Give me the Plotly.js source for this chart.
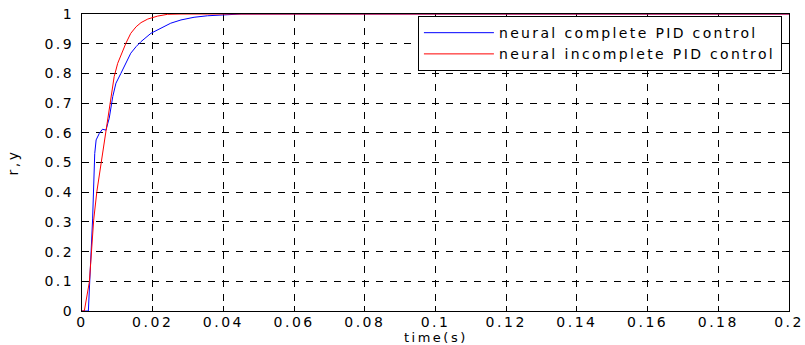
<!DOCTYPE html>
<html>
<head>
<meta charset="utf-8">
<script src="https://cdn.plot.ly/plotly-3.0.1.min.js"></script>
<style>
  html, body { margin: 0; padding: 0; background: #fff; }
  #chart { width: 805px; height: 345px; }
  .xtick text, .ytick text, .xtitle, .ytitle, .annotation-text { letter-spacing: 2.5px; }
  .legendtext { letter-spacing: 2.35px; }
</style>
</head>
<body>
<div id="chart"></div>
<script>
// time (s) and output for the neural complete PID controller (blue)
const completeT = [0, 0.0018, 0.0030, 0.0036, 0.0040, 0.0045, 0.0049, 0.0058, 0.0068, 0.0073, 0.0077, 0.0087, 0.0096, 0.0110, 0.0124, 0.0138, 0.0153, 0.0167, 0.0195, 0.0223, 0.0251, 0.0280, 0.0317, 0.0355, 0.0393, 0.0450, 0.2];
const completeY = [0, 0, 0.31, 0.53, 0.576, 0.590, 0.598, 0.612, 0.609, 0.632, 0.649, 0.722, 0.767, 0.800, 0.834, 0.868, 0.890, 0.907, 0.935, 0.952, 0.969, 0.980, 0.989, 0.994, 0.997, 1.0, 1.0];
// time (s) and output for the neural incomplete PID controller (red)
const incompleteT = [0, 0.00065, 0.0021, 0.0027, 0.0033, 0.0042, 0.0054, 0.0068, 0.0073, 0.0082, 0.0091, 0.0101, 0.0110, 0.0124, 0.0138, 0.0153, 0.0167, 0.0186, 0.0214, 0.0242, 0.0280, 0.2];
const incompleteY = [0, 0, 0.099, 0.200, 0.306, 0.402, 0.497, 0.604, 0.643, 0.710, 0.789, 0.834, 0.862, 0.901, 0.935, 0.957, 0.971, 0.983, 0.993, 0.999, 1.0, 1.0];

const xTickVals = [0, 0.02, 0.04, 0.06, 0.08, 0.1, 0.12, 0.14, 0.16, 0.18, 0.2];
const xTickText = ['0', '0.02', '0.04', '0.06', '0.08', '0.1', '0.12', '0.14', '0.16', '0.18', '0.2'];
const yTickVals = [0, 0.1, 0.2, 0.3, 0.4, 0.5, 0.6, 0.7, 0.8, 0.9, 1];
const yTickText = ['0', '0.1', '0.2', '0.3', '0.4', '0.5', '0.6', '0.7', '0.8', '0.9', '1'];

const xTitle = 'time(s)';
const yTitle = 'r,y';

const FONT = 'DejaVu Sans, Liberation Sans, Arial, sans-serif';

const traces = [
  { x: completeT, y: completeY, type: 'scatter', mode: 'lines',
    name: 'neural complete PID control', line: { color: 'rgb(0,0,255)', width: 1 } },
  { x: incompleteT, y: incompleteY, type: 'scatter', mode: 'lines',
    name: 'neural incomplete PID control', line: { color: 'rgb(255,0,0)', width: 1 } }
];

const axisCommon = {
  showline: true, linecolor: '#000', linewidth: 1, mirror: 'ticks',
  ticks: 'inside', ticklen: 5, tickcolor: '#000', tickwidth: 1,
  showgrid: true, gridcolor: '#000', gridwidth: 1, griddash: '7px,7px',
  zeroline: false, layer: 'below traces',
  tickfont: { family: FONT, size: 14, color: '#000' }
};

const layout = {
  width: 805, height: 345,
  margin: { l: 82, r: 16, t: 14, b: 34, pad: 0 },
  paper_bgcolor: '#fff', plot_bgcolor: '#fff',
  showlegend: true,
  legend: {
    x: 0.99, xanchor: 'right', y: 0.993, yanchor: 'top',
    bgcolor: '#fff', bordercolor: '#000', borderwidth: 1,
    font: { family: FONT, size: 14, color: '#000' },
    itemwidth: 70, tracegroupgap: 0
  },
  xaxis: Object.assign({}, axisCommon, {
    range: [0, 0.2], tickmode: 'array', tickvals: xTickVals, ticktext: xTickText,
    automargin: false, ticklabelstandoff: -2
  }),
  yaxis: Object.assign({}, axisCommon, {
    range: [0, 1], tickmode: 'array', tickvals: yTickVals, ticktext: yTickText,
    automargin: false, ticklabelstandoff: 4,
    title: { text: yTitle, font: { family: FONT, size: 14, color: '#000' }, standoff: 22 }
  }),
  annotations: [
    { text: xTitle, xref: 'paper', yref: 'paper', x: 0.5, y: 0, xanchor: 'center', yanchor: 'top',
      yshift: -18, showarrow: false, borderpad: 0, font: { family: FONT, size: 13, color: '#000' } }
  ]
};

Plotly.newPlot('chart', traces, layout, { displayModeBar: false, staticPlot: true });
</script>
</body>
</html>
